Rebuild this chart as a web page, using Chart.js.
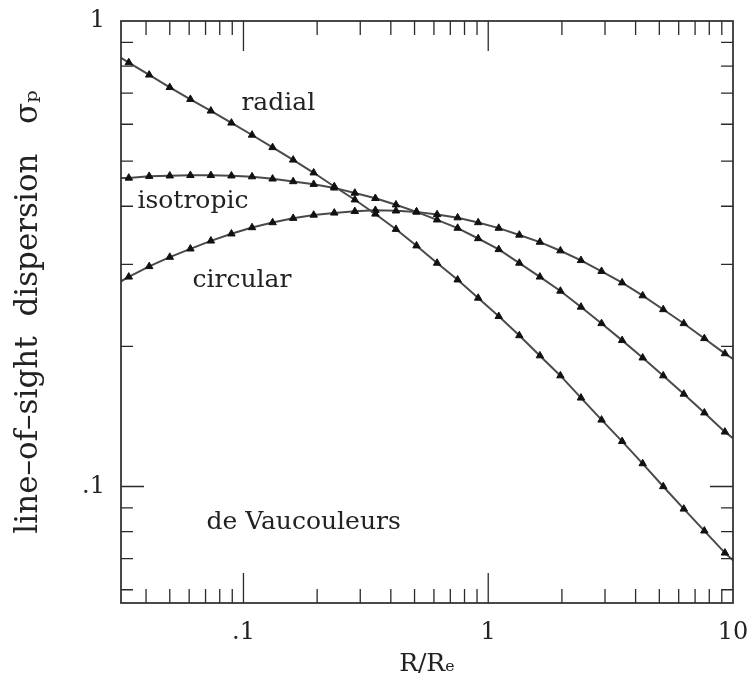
<!DOCTYPE html>
<html>
<head>
<meta charset="utf-8">
<title>line-of-sight dispersion</title>
<script src="https://cdn.jsdelivr.net/npm/chart.js@4.4.1/dist/chart.umd.min.js"></script>
<style>
  html, body { margin: 0; padding: 0; background: #fff; }
  canvas { display: block; }
</style>
</head>
<body>
<canvas id="sigmaChart" width="754" height="695"></canvas>
<script>
// R/Re of the marked points (evenly spaced in log R)
const radii = [0.0340, 0.0412, 0.0500, 0.0607, 0.0736, 0.0893, 0.1084, 0.1315, 0.1596, 0.1936,
               0.2350, 0.2851, 0.3459, 0.4198, 0.5093, 0.6180, 0.7499, 0.9099, 1.104, 1.340,
               1.626, 1.972, 2.393, 2.904, 3.524, 4.276, 5.188, 6.295, 7.638, 9.268];

const radialSigma = [0.814, 0.766, 0.720, 0.679, 0.641, 0.604, 0.569, 0.535, 0.503, 0.472,
                     0.441, 0.413, 0.385, 0.357, 0.329, 0.302, 0.278, 0.254, 0.232, 0.211,
                     0.191, 0.173, 0.155, 0.139, 0.125, 0.112, 0.100, 0.0895, 0.0803, 0.0720];

const isotropicSigma = [0.460, 0.464, 0.465, 0.466, 0.466, 0.465, 0.463, 0.458, 0.452, 0.446,
                        0.438, 0.427, 0.416, 0.403, 0.389, 0.374, 0.359, 0.341, 0.323, 0.302,
                        0.282, 0.263, 0.243, 0.224, 0.206, 0.189, 0.173, 0.158, 0.144, 0.131];

const circularSigma = [0.282, 0.297, 0.311, 0.324, 0.337, 0.349, 0.360, 0.369, 0.377, 0.383,
                       0.387, 0.390, 0.392, 0.391, 0.389, 0.384, 0.378, 0.369, 0.359, 0.347,
                       0.335, 0.321, 0.306, 0.290, 0.274, 0.257, 0.240, 0.224, 0.208, 0.193];

// where each curve runs into the frame (no marker there)
const edgeRadii = [0.0316, 10];
const radialEdge = [0.833, 0.0694];
const isotropicEdge = [0.460, 0.127];
const circularEdge = [0.276, 0.188];

// tick marks and labels
const xMajorTicks = [0.1, 1];
const xMinorTicks = [0.04, 0.05, 0.06, 0.07, 0.08, 0.09,
                     0.2, 0.3, 0.4, 0.5, 0.6, 0.7, 0.8, 0.9,
                     2, 3, 4, 5, 6, 7, 8, 9];
const yMajorTicks = [0.1];
const yMinorTicks = [0.06, 0.07, 0.08, 0.09, 0.2, 0.3, 0.4, 0.5, 0.6, 0.7, 0.8, 0.9];
const xTickLabels = {0.1: '.1', 1: '1', 10: '10'};
const yTickLabels = {0.1: '.1', 1: '1'};

const curveNames = ['radial', 'isotropic', 'circular', 'de Vaucouleurs'];

function buildSeries(values, edges) {
    const points = radii.map((r, i) => ({ x: r, y: values[i] }));
    return [{ x: edgeRadii[0], y: edges[0] }, ...points, { x: edgeRadii[1], y: edges[1] }];
}

function tickText(lookup, value) {
    const key = Math.round(value * 1e6) / 1e6;
    return lookup[key] || '';
}

// no marker on the two frame points
function markerRadius(ctx) {
    const last = radii.length + 1;
    return (ctx.dataIndex === 0 || ctx.dataIndex === last) ? 0 : 4.3;
}

// frame with inward ticks on all four sides, plus the curve names
const frameAndLabels = {
    id: 'frameAndLabels',
    afterDraw(chart) {
        const { ctx, chartArea: a, scales: { x, y } } = chart;
        ctx.save();
        ctx.strokeStyle = '#2a2a2a';
        ctx.lineWidth = 1.7;
        ctx.strokeRect(a.left, a.top, a.right - a.left, a.bottom - a.top);

        ctx.lineWidth = 1.3;
        ctx.beginPath();
        const xTick = (v, len) => {
            const px = x.getPixelForValue(v);
            ctx.moveTo(px, a.bottom); ctx.lineTo(px, a.bottom - len);
            ctx.moveTo(px, a.top); ctx.lineTo(px, a.top + len);
        };
        const yTick = (v, len) => {
            const py = y.getPixelForValue(v);
            ctx.moveTo(a.left, py); ctx.lineTo(a.left + len, py);
            ctx.moveTo(a.right, py); ctx.lineTo(a.right - len, py);
        };
        xMinorTicks.forEach(v => xTick(v, 14));
        xMajorTicks.forEach(v => xTick(v, 30));
        yMinorTicks.forEach(v => yTick(v, 12));
        yMajorTicks.forEach(v => yTick(v, 23));
        ctx.stroke();

        // curve names, anchored in data coordinates (left edge, baseline)
        const spots = [[0.0981, 0.644], [0.0369, 0.397], [0.0619, 0.2687], [0.0706, 0.0809]];
        ctx.fillStyle = '#222';
        ctx.font = '25px "DejaVu Serif"';
        ctx.textAlign = 'left';
        ctx.textBaseline = 'alphabetic';
        curveNames.forEach((name, i) => {
            ctx.fillText(name, x.getPixelForValue(spots[i][0]), y.getPixelForValue(spots[i][1]));
        });
        ctx.restore();
    }
};

function lineStyle(label, data) {
    return {
        label: label,
        data: data,
        borderColor: '#4a4a4a',
        borderWidth: 2,
        backgroundColor: '#111',
        pointBorderColor: '#111',
        pointBorderWidth: 1,
        pointStyle: 'triangle',
        pointRadius: markerRadius,
        tension: 0,
        fill: false
    };
}

function createDispersionChart() {
    const ctx = document.getElementById('sigmaChart').getContext('2d');
    new Chart(ctx, {
        type: 'line',
        data: {
            datasets: [
                lineStyle('radial', buildSeries(radialSigma, radialEdge)),
                lineStyle('isotropic', buildSeries(isotropicSigma, isotropicEdge)),
                lineStyle('circular', buildSeries(circularSigma, circularEdge))
            ]
        },
        options: {
            responsive: false,
            animation: false,
            devicePixelRatio: 1,
            layout: { padding: { top: 21, right: 21, left: 0, bottom: 0 } },
            plugins: {
                legend: { display: false },
                tooltip: { enabled: false }
            },
            scales: {
                x: {
                    type: 'logarithmic',
                    min: 0.0316,
                    max: 10,
                    grid: { display: false, drawTicks: false },
                    border: { display: false },
                    ticks: {
                        autoSkip: false,
                        maxRotation: 0,
                        padding: 15,
                        color: '#222',
                        font: { family: 'DejaVu Serif', size: 24 },
                        callback: value => tickText(xTickLabels, value)
                    },
                    title: {
                        display: true,
                        text: 'R/Rₑ',
                        color: '#222',
                        font: { family: 'DejaVu Serif', size: 25 },
                        padding: { top: 0, bottom: 16 }
                    },
                    afterFit: scale => {
                        scale.height = 92;
                        scale.paddingLeft = 0;
                        scale.paddingRight = 0;
                    }
                },
                y: {
                    type: 'logarithmic',
                    min: 0.0562,
                    max: 1,
                    grid: { display: false, drawTicks: false },
                    border: { display: false },
                    ticks: {
                        autoSkip: false,
                        padding: 16,
                        color: '#222',
                        font: { family: 'DejaVu Serif', size: 24 },
                        callback: value => tickText(yTickLabels, value)
                    },
                    title: {
                        display: true,
                        text: 'line–of–sight  dispersion   σₚ',
                        color: '#222',
                        font: { family: 'DejaVu Serif', size: 31 },
                        padding: { top: 10, bottom: 0 }
                    },
                    afterFit: scale => {
                        scale.width = 121;
                        scale.paddingTop = 0;
                        scale.paddingBottom = 0;
                    }
                }
            }
        },
        plugins: [frameAndLabels]
    });
}

createDispersionChart();
</script>
</body>
</html>
